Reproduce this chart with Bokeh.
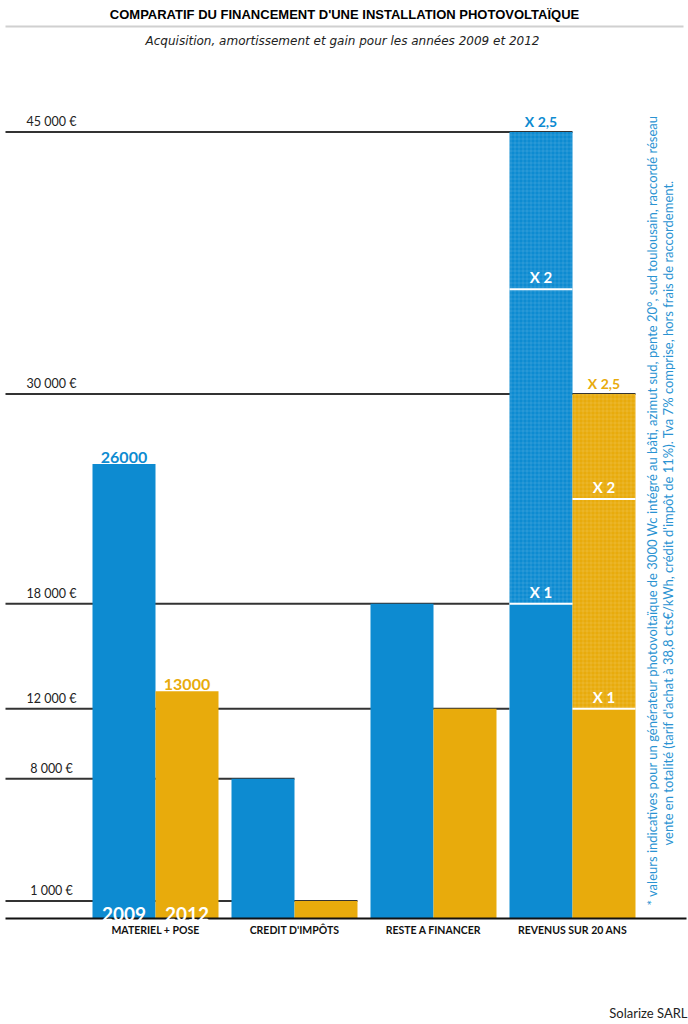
from bokeh.plotting import figure
from bokeh.models import Range1d, Label
from bokeh.core.properties import value
from bokeh.embed import file_html
from bokeh.resources import INLINE

# ---- data -----------------------------------------------------------------
categories = ["MATERIEL + POSE", "CREDIT D'IMPÔTS", "RESTE A FINANCER", "REVENUS SUR 20 ANS"]
years = ["2009", "2012"]
values_2009 = [26000, 8000, 18000]          # materiel, credit, reste
values_2012 = [13000, 1000, 12000]
multipliers = [1, 2, 2.5]                   # revenue = reste x multiplier
multiplier_labels = ["X 1", "X 2", "X 2,5"]
tick_values = [1000, 8000, 12000, 18000, 30000, 45000]
tick_labels = ["1 000 €", "8 000 €", "12 000 €", "18 000 €", "30 000 €", "45 000 €"]

# ---- styling / geometry -----------------------------------------------------
BLUE = "#0d8bd1"
GOLD = "#e8ab0c"
NOTE_BLUE = "#2a93d2"
W, H = 688, 1024
GROUP_PX = 139.0          # pixels between group centres
FIRST_CENTER_PX = 155.0
BASE_PX = 918.0           # baseline from top
PX_PER_EUR = 0.01748
BW = 63.0 / GROUP_PX      # bar width in data units

p = figure(width=W, height=H,
           x_range=Range1d(-FIRST_CENTER_PX / GROUP_PX, (W - FIRST_CENTER_PX) / GROUP_PX),
           y_range=Range1d(-(H - BASE_PX) / PX_PER_EUR, BASE_PX / PX_PER_EUR),
           output_backend="svg", toolbar_location=None, min_border=0)
p.axis.visible = False
p.grid.visible = False
p.outline_line_color = None
p.background_fill_color = "white"

FONT = "Lato"
x_left = (5 - FIRST_CENTER_PX) / GROUP_PX
rev = len(categories) - 1
rev_base = [values_2009[2], values_2012[2]]
rev_top = [b * multipliers[-1] for b in rev_base]

# reference lines: each runs from the left edge to the bar carrying that amount
def right_edge(i, year):
    return i if year == 0 else i + BW

line_end = {
    values_2012[1]: right_edge(1, 1),
    values_2009[1]: right_edge(1, 0),
    values_2012[2]: rev - BW,
    values_2009[2]: rev - BW,
    rev_top[1]: right_edge(rev, 1),
    rev_top[0]: right_edge(rev, 0),
}
p.segment(x0=[x_left] * len(tick_values), x1=[line_end[v] for v in tick_values],
          y0=tick_values, y1=tick_values, line_color="#333333", line_width=2)
p.text(x=[(51 - FIRST_CENTER_PX) / GROUP_PX] * len(tick_values), y=tick_values,
       text=tick_labels, text_align="center", text_baseline="bottom", y_offset=-3,
       text_font=value(FONT), text_font_size="12.5px", text_color="#222222")

# grouped bars
x09 = [i - BW / 2 for i in range(3)]
x12 = [i + BW / 2 for i in range(3)]
p.vbar(x=x09, top=values_2009, bottom=0, width=BW, fill_color=BLUE, line_color=None)
p.vbar(x=x12, top=values_2012, bottom=0, width=BW, fill_color=GOLD, line_color=None)

# revenue bars: solid base plus textured multiplier part
rx = [rev - BW / 2, rev + BW / 2]
cols = [BLUE, GOLD]
p.vbar(x=rx, top=rev_base, bottom=0, width=BW, fill_color=cols, line_color=None)
p.vbar(x=rx, top=rev_top, bottom=rev_base, width=BW, fill_color=cols, line_color=None,
       hatch_pattern="+", hatch_color="white", hatch_alpha=0.2, hatch_scale=4,
       hatch_weight=0.6)

for k in range(2):
    levels = [rev_base[k] * m for m in multipliers[:-1]]
    p.segment(x0=[rx[k] - BW / 2] * len(levels), x1=[rx[k] + BW / 2] * len(levels),
              y0=levels, y1=levels, line_color="white", line_width=2)
    p.text(x=[rx[k]] * len(levels), y=levels, text=multiplier_labels[:-1],
           text_align="center", text_baseline="bottom", y_offset=-3,
           text_font=value(FONT), text_font_style="bold", text_font_size="15px",
           text_color="white")
    p.text(x=[rx[k]], y=[rev_top[k]], text=[multiplier_labels[-1]],
           text_align="center", text_baseline="bottom", y_offset=-2,
           text_font=value(FONT), text_font_style="bold", text_font_size="14px",
           text_color=cols[k])

# baseline
p.segment(x0=[x_left], x1=[(W - 2 - FIRST_CENTER_PX) / GROUP_PX], y0=[0], y1=[0],
          line_color="#111111", line_width=2)

# value labels on the first group
p.text(x=[x09[0], x12[0]], y=[values_2009[0], values_2012[0]],
       text=[str(values_2009[0]), str(values_2012[0])],
       text_align="center", text_baseline="bottom", y_offset=-1,
       text_font=value(FONT), text_font_style="bold", text_font_size="16px",
       text_color=[BLUE, GOLD])
p.text(x=[x09[0], x12[0]], y=[0, 0], text=years, text_align="center",
       text_baseline="bottom", y_offset=2, text_font=value(FONT),
       text_font_style="bold", text_font_size="19px", text_color="white")

# category labels
p.text(x=list(range(len(categories))), y=[0] * len(categories), text=categories,
       text_align="center", text_baseline="top", y_offset=5, text_font=value(FONT),
       text_font_style="bold", text_font_size="10.5px", text_color="#111111")

# titles
p.add_layout(Label(x=W / 2, y=H - 14, x_units="screen", y_units="screen",
                   text="COMPARATIF DU FINANCEMENT D'UNE INSTALLATION PHOTOVOLTAÏQUE",
                   text_align="center", text_baseline="middle",
                   text_font="Liberation Sans", text_font_style="bold",
                   text_font_size="13px", text_color="#000000"))
p.segment(x0=[x_left], x1=[(683 - FIRST_CENTER_PX) / GROUP_PX],
          y0=[(BASE_PX - 26) / PX_PER_EUR], y1=[(BASE_PX - 26) / PX_PER_EUR],
          line_color="#d0d0d0", line_width=2)
p.add_layout(Label(x=W / 2 - 2, y=H - 40, x_units="screen", y_units="screen",
                   text="Acquisition, amortissement et gain pour les années 2009 et 2012",
                   text_align="center", text_baseline="middle",
                   text_font="DejaVu Sans", text_font_style="italic",
                   text_font_size="12px", text_color="#222222"))

# footnote, vertical along the right edge
p.add_layout(Label(x=651, y=H - 905, x_units="screen", y_units="screen", angle=90,
                   angle_units="deg",
                   text="*  valeurs indicatives pour un générateur photovoltaïque de 3000 Wc  intégré au bâti, azimut sud, pente 20°, sud toulousain, raccordé réseau",
                   text_align="left", text_baseline="middle", text_font=FONT,
                   text_font_size="13px", text_color=NOTE_BLUE))
p.add_layout(Label(x=667, y=H - 845, x_units="screen", y_units="screen", angle=90,
                   angle_units="deg",
                   text="vente en totalité (tarif d'achat à 38,8 cts€/kWh, crédit d'impôt de 11%). Tva 7% comprise, hors frais de raccordement.",
                   text_align="left", text_baseline="middle", text_font=FONT,
                   text_font_size="13px", text_color=NOTE_BLUE))

p.add_layout(Label(x=W - 1, y=H - 1012, x_units="screen", y_units="screen",
                   text="Solarize SARL", text_align="right", text_baseline="middle",
                   text_font=FONT, text_font_size="13px", text_color="#222222"))

open("out.html", "w").write(file_html(p, INLINE))
